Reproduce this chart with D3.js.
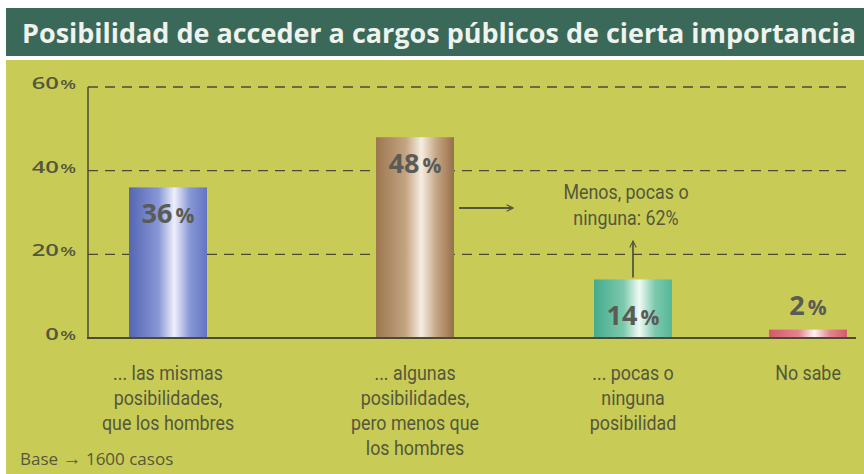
<!DOCTYPE html>
<html>
<head>
<meta charset="utf-8">
<script src="https://cdn.jsdelivr.net/npm/d3@7"></script>
<style>
  body { margin: 0; background: #fff; }
  svg { display: block; }
</style>
</head>
<body>
<div id="chart"></div>
<script>
// Data
const categories = ["mismas", "algunas", "pocas", "nosabe"];
const values = [36, 48, 14, 2];
const catLabels = [
  ["... las mismas", "posibilidades,", "que los hombres"],
  ["... algunas", "posibilidades,", "pero menos que", "los hombres"],
  ["... pocas o", "ninguna", "posibilidad"],
  ["No sabe"]
];
const yTicks = [0, 20, 40, 60];
const barColors = [
  ["#5566b4", "#8897d6", "#eef0fb", "#6474c2"],
  ["#9c7650", "#c4a482", "#f6ede2", "#98704a"],
  ["#46ab8c", "#7cc9ad", "#f0faf4", "#55b899"],
  ["#d4596a", "#e4848f", "#fff2f3", "#d45c6c"]
];
const title = "Posibilidad de acceder a cargos públicos de cierta importancia";
const note = ["Menos, pocas o", "ninguna: 62%"];

const width = 864;
const height = 474;
const ink = "#55573c";
const narrow = "Roboto, sans-serif";
const squeeze = 0.85;

const svg = d3.select("#chart").append("svg")
    .attr("width", width)
    .attr("height", height);

// Scales
const x = d3.scaleOrdinal()
    .domain(categories)
    .range([168, 415, 633, 808]);
const barW = 78;
const y = d3.scaleLinear()
    .domain([0, 60])
    .range([338, 87]);

// Gradients
const defs = svg.append("defs");
categories.forEach((c, i) => {
  const g = defs.append("linearGradient")
      .attr("id", "grad-" + c)
      .attr("x1", 0).attr("x2", 1).attr("y1", 0).attr("y2", 0);
  const cols = barColors[i];
  g.append("stop").attr("offset", "0%").attr("stop-color", cols[0]);
  g.append("stop").attr("offset", "38%").attr("stop-color", cols[1]);
  g.append("stop").attr("offset", "58%").attr("stop-color", cols[2]);
  g.append("stop").attr("offset", "78%").attr("stop-color", cols[1]);
  g.append("stop").attr("offset", "100%").attr("stop-color", cols[3]);
});

// Background panel
svg.append("rect")
    .attr("x", 6).attr("y", 60)
    .attr("width", width - 6).attr("height", height - 60)
    .attr("fill", "#c8cc56");

// Title bar
svg.append("rect")
    .attr("x", 6).attr("y", 8)
    .attr("width", width - 6).attr("height", 48)
    .attr("fill", "#3a6859");
svg.append("text")
    .attr("x", 22).attr("y", 43)
    .attr("textLength", 834)
    .attr("lengthAdjust", "spacingAndGlyphs")
    .attr("font-family", "'Open Sans', sans-serif")
    .attr("font-weight", 700)
    .attr("font-size", 26)
    .attr("fill", "#eef3ee")
    .text(title);

// Gridlines
svg.append("g")
  .selectAll("line")
  .data(yTicks.filter(d => d > 0))
  .join("line")
    .attr("x1", 88).attr("x2", 850)
    .attr("y1", d => y(d)).attr("y2", d => y(d))
    .attr("stroke", "#4a4b32")
    .attr("stroke-width", 1.4)
    .attr("stroke-dasharray", "10,7");

// Y tick labels (wide face: stretch horizontally)
const yl = svg.append("g")
  .selectAll("text")
  .data(yTicks)
  .join("text")
    .attr("transform", d => `translate(76,${y(d) + 2}) scale(1.4,1)`)
    .attr("text-anchor", "end")
    .attr("font-family", "'Open Sans', sans-serif")
    .attr("font-weight", 600)
    .attr("font-size", 17)
    .attr("fill", ink);
yl.append("tspan").text(d => d);
yl.append("tspan").attr("font-size", 13).attr("dx", 1).text("%");

// Bars
svg.append("g")
  .selectAll("rect")
  .data(values)
  .join("rect")
    .attr("x", (d, i) => x(categories[i]) - barW / 2)
    .attr("y", d => y(d))
    .attr("width", barW)
    .attr("height", d => y(0) - y(d))
    .attr("fill", (d, i) => "url(#grad-" + categories[i] + ")");

// Axes lines
svg.append("line")
    .attr("x1", 88).attr("x2", 88)
    .attr("y1", y(60)).attr("y2", y(0))
    .attr("stroke", "#4a4b32").attr("stroke-width", 1.5);
svg.append("line")
    .attr("x1", 87).attr("x2", 856)
    .attr("y1", y(0)).attr("y2", y(0))
    .attr("stroke", "#4a4b32").attr("stroke-width", 2);

// Value labels
const vl = svg.append("g")
  .selectAll("text")
  .data(values)
  .join("text")
    .attr("x", (d, i) => x(categories[i]))
    .attr("y", d => d >= 30 ? y(d) + 36 : (d >= 10 ? y(0) - 13 : y(d) - 15))
    .attr("text-anchor", "middle")
    .attr("font-family", "'Open Sans', sans-serif")
    .attr("font-weight", 700)
    .attr("font-size", 27)
    .attr("fill", "#5a5b55");
vl.append("tspan").text(d => d);
vl.append("tspan").attr("font-size", 21).attr("dx", 3).text("%");

// Category labels
svg.append("g")
  .selectAll("text")
  .data(catLabels)
  .join("text")
    .attr("transform", (d, i) => `translate(${x(categories[i])},380) scale(${squeeze},1)`)
    .attr("text-anchor", "middle")
    .attr("font-family", narrow)
    .attr("font-size", 21)
    .attr("fill", ink)
  .selectAll("tspan")
  .data(d => d)
  .join("tspan")
    .attr("x", 0)
    .attr("dy", (d, i) => i === 0 ? 0 : 25)
    .text(d => d);

// Annotation
svg.append("g")
  .selectAll("text")
  .data(note)
  .join("text")
    .attr("transform", (d, i) => `translate(626,${199 + i * 26}) scale(${squeeze},1)`)
    .attr("text-anchor", "middle")
    .attr("font-family", narrow)
    .attr("font-size", 21)
    .attr("fill", ink)
    .text(d => d);

const arrowColor = "#55573c";
defs.append("marker")
    .attr("id", "arrow")
    .attr("viewBox", "0 0 10 10")
    .attr("refX", 9).attr("refY", 5)
    .attr("markerWidth", 8).attr("markerHeight", 8)
    .attr("markerUnits", "userSpaceOnUse")
    .attr("orient", "auto")
  .append("path")
    .attr("d", "M1,1 L9,5 L1,9")
    .attr("fill", "none")
    .attr("stroke", arrowColor)
    .attr("stroke-width", 1.4);

svg.append("line")
    .attr("x1", 459).attr("x2", 513)
    .attr("y1", 208).attr("y2", 208)
    .attr("stroke", arrowColor).attr("stroke-width", 1.8)
    .attr("marker-end", "url(#arrow)");
svg.append("line")
    .attr("x1", x("pocas")).attr("x2", x("pocas"))
    .attr("y1", y(14) - 2).attr("y2", 241)
    .attr("stroke", arrowColor).attr("stroke-width", 1.8)
    .attr("marker-end", "url(#arrow)");

// Footnote
const foot = svg.append("text")
    .attr("x", 20).attr("y", 465)
    .attr("font-family", "'Open Sans', sans-serif")
    .attr("font-size", 17)
    .attr("fill", ink);
foot.append("tspan").text("Base ");
foot.append("tspan").attr("font-weight", 700).attr("font-size", 19).text("→");
foot.append("tspan").text(" 1600 casos");
</script>
</body>
</html>
